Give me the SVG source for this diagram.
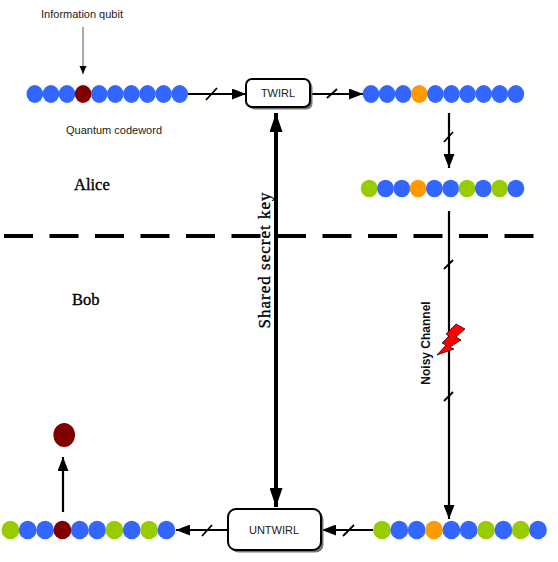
<svg xmlns="http://www.w3.org/2000/svg" width="558" height="562" viewBox="0 0 558 562">
<style>
.b{fill:#3366ff}.g{fill:#99cc00}.o{fill:#ff9900}.r{fill:#800000}
.ln{stroke:#000;stroke-width:2.2;fill:none}
.sl{stroke:#000;stroke-width:1.8}
.sans{font-family:"Liberation Sans",Arial,sans-serif;font-size:11px;fill:#222}
.serif{font-family:"Liberation Serif","Times New Roman",serif;fill:#000;stroke:#000;stroke-width:0.35}
.box{fill:#fff;stroke:#000;stroke-width:2}
.shadow{fill:#777}
</style>
<defs>
<marker id="ah" markerUnits="userSpaceOnUse" markerWidth="14" markerHeight="11" refX="14" refY="5.5" orient="auto"><path d="M0,0 L14,5.5 L0,11 z" fill="#000"/></marker>
<marker id="ahs" markerUnits="userSpaceOnUse" markerWidth="8" markerHeight="8" refX="8" refY="3.5" orient="auto"><path d="M0,0 L8,3.5 L0,7 z" fill="#000"/></marker>
<marker id="ahb" markerUnits="userSpaceOnUse" markerWidth="19" markerHeight="13" refX="19" refY="6.5" orient="auto-start-reverse"><path d="M0,0 L19,6.5 L0,13 z" fill="#000"/></marker>
</defs>
<rect width="558" height="562" fill="#fff"/>

<g id="divider"><path d="M4,236 H534" stroke="#000" stroke-width="4" stroke-dasharray="29 16.5"/></g>

<g id="connectors">
<path d="M83,27 V74" stroke="#555" stroke-width="1" fill="none" marker-end="url(#ahs)"/>
<path class="ln" d="M188,94 H246" marker-end="url(#ah)"/>
<path class="ln" d="M311,94 H363" marker-end="url(#ah)"/>
<path class="ln" d="M449,113 V168" marker-end="url(#ah)"/>
<path class="ln" d="M449,211 V519" marker-end="url(#ah)"/>
<path class="ln" d="M373,530 H322" marker-end="url(#ah)"/>
<path class="ln" d="M227,530 H176" marker-end="url(#ah)"/>
<path class="ln" d="M63,512 V457" marker-end="url(#ah)"/>
<path d="M276,113 V507" stroke="#000" stroke-width="4" marker-start="url(#ahb)" marker-end="url(#ahb)"/>
<line class="sl" x1="206" y1="100" x2="217" y2="88"/>
<line class="sl" x1="327" y1="98" x2="337" y2="89"/>
<line class="sl" x1="444" y1="142" x2="453" y2="132"/>
<line class="sl" x1="444" y1="269" x2="453" y2="260"/>
<line class="sl" x1="444" y1="401" x2="453" y2="392"/>
<line class="sl" x1="343" y1="536" x2="354" y2="525"/>
<line class="sl" x1="202" y1="536" x2="212" y2="525"/>
</g>

<g id="codeword">
<ellipse class="b" cx="34.8" cy="94" rx="8.3" ry="9"/>
<ellipse class="b" cx="50.9" cy="94" rx="8.3" ry="9"/>
<ellipse class="b" cx="67" cy="94" rx="8.3" ry="9"/>
<ellipse class="r" cx="83.1" cy="94" rx="8.3" ry="9"/>
<ellipse class="b" cx="99.2" cy="94" rx="8.3" ry="9"/>
<ellipse class="b" cx="115.3" cy="94" rx="8.3" ry="9"/>
<ellipse class="b" cx="131.4" cy="94" rx="8.3" ry="9"/>
<ellipse class="b" cx="147.5" cy="94" rx="8.3" ry="9"/>
<ellipse class="b" cx="163.6" cy="94" rx="8.3" ry="9"/>
<ellipse class="b" cx="179.7" cy="94" rx="8.3" ry="9"/>
</g>

<g id="twirled">
<ellipse class="b" cx="371" cy="94" rx="8.3" ry="9"/>
<ellipse class="b" cx="387.1" cy="94" rx="8.3" ry="9"/>
<ellipse class="b" cx="403.2" cy="94" rx="8.3" ry="9"/>
<ellipse class="o" cx="419.3" cy="94" rx="8.3" ry="9"/>
<ellipse class="b" cx="435.4" cy="94" rx="8.3" ry="9"/>
<ellipse class="b" cx="451.5" cy="94" rx="8.3" ry="9"/>
<ellipse class="b" cx="467.6" cy="94" rx="8.3" ry="9"/>
<ellipse class="b" cx="483.7" cy="94" rx="8.3" ry="9"/>
<ellipse class="b" cx="499.8" cy="94" rx="8.3" ry="9"/>
<ellipse class="b" cx="515.9" cy="94" rx="8.3" ry="9"/>
</g>

<g id="encoded">
<ellipse class="g" cx="369.2" cy="188.5" rx="8.4" ry="8.8"/>
<ellipse class="b" cx="385.5" cy="188.5" rx="8.4" ry="8.8"/>
<ellipse class="b" cx="401.8" cy="188.5" rx="8.4" ry="8.8"/>
<ellipse class="o" cx="418.1" cy="188.5" rx="8.4" ry="8.8"/>
<ellipse class="b" cx="434.4" cy="188.5" rx="8.4" ry="8.8"/>
<ellipse class="b" cx="450.7" cy="188.5" rx="8.4" ry="8.8"/>
<ellipse class="g" cx="467" cy="188.5" rx="8.4" ry="8.8"/>
<ellipse class="b" cx="483.3" cy="188.5" rx="8.4" ry="8.8"/>
<ellipse class="g" cx="499.6" cy="188.5" rx="8.4" ry="8.8"/>
<ellipse class="b" cx="515.9" cy="188.5" rx="8.4" ry="8.8"/>
</g>

<g id="received">
<ellipse class="g" cx="382" cy="530" rx="8.9" ry="9.2"/>
<ellipse class="b" cx="399.3" cy="530" rx="8.9" ry="9.2"/>
<ellipse class="b" cx="416.7" cy="530" rx="8.9" ry="9.2"/>
<ellipse class="o" cx="434" cy="530" rx="8.9" ry="9.2"/>
<ellipse class="b" cx="451.4" cy="530" rx="8.9" ry="9.2"/>
<ellipse class="b" cx="468.7" cy="530" rx="8.9" ry="9.2"/>
<ellipse class="g" cx="486" cy="530" rx="8.9" ry="9.2"/>
<ellipse class="b" cx="503.4" cy="530" rx="8.9" ry="9.2"/>
<ellipse class="g" cx="520.7" cy="530" rx="8.9" ry="9.2"/>
<ellipse class="b" cx="538" cy="530" rx="8.9" ry="9.2"/>
</g>

<g id="decoded">
<ellipse class="g" cx="10.4" cy="530" rx="8.9" ry="9.2"/>
<ellipse class="b" cx="27.7" cy="530" rx="8.9" ry="9.2"/>
<ellipse class="b" cx="45.1" cy="530" rx="8.9" ry="9.2"/>
<ellipse class="r" cx="62.4" cy="530" rx="8.9" ry="9.2"/>
<ellipse class="b" cx="79.7" cy="530" rx="8.9" ry="9.2"/>
<ellipse class="b" cx="97.1" cy="530" rx="8.9" ry="9.2"/>
<ellipse class="g" cx="114.4" cy="530" rx="8.9" ry="9.2"/>
<ellipse class="b" cx="131.7" cy="530" rx="8.9" ry="9.2"/>
<ellipse class="g" cx="149.1" cy="530" rx="8.9" ry="9.2"/>
<ellipse class="b" cx="166.4" cy="530" rx="8.9" ry="9.2"/>
</g>

<g id="recovered-qubit"><ellipse class="r" cx="64.2" cy="435" rx="10.8" ry="12"/></g>

<g id="twirl">
<rect class="shadow" x="248.5" y="81.5" width="64" height="28" rx="6"/>
<rect class="box" x="246" y="79" width="64" height="28" rx="6"/>
<text class="sans" x="278" y="97" text-anchor="middle">TWIRL</text>
</g>

<g id="untwirl">
<rect class="shadow" x="230.5" y="511.5" width="93" height="41" rx="8"/>
<rect class="box" x="228" y="509" width="93" height="41" rx="8"/>
<text class="sans" x="274" y="534" text-anchor="middle">UNTWIRL</text>
</g>

<g id="noise">
<polygon points="456,324 465,329 456,337 461,340 450,347 454,349 437,355 446,345 442,343 449,336 446,334" fill="#ff0000" stroke="#000" stroke-width="0.7"/>
</g>

<g id="labels">
<text class="sans" x="82" y="18" text-anchor="middle">Information qubit</text>
<text class="sans" x="114" y="134" text-anchor="middle">Quantum codeword</text>
<text class="serif" x="74" y="190" font-size="16.5">Alice</text>
<text class="serif" x="72" y="305" font-size="16.5">Bob</text>
<text class="serif" transform="translate(270,260) rotate(-90)" text-anchor="middle" font-size="17" letter-spacing="1">Shared secret key</text>
<text transform="translate(430,343) rotate(-90)" text-anchor="middle" font-family="Liberation Sans, Arial, sans-serif" font-weight="bold" font-size="12" fill="#111">Noisy Channel</text>
</g>
</svg>
